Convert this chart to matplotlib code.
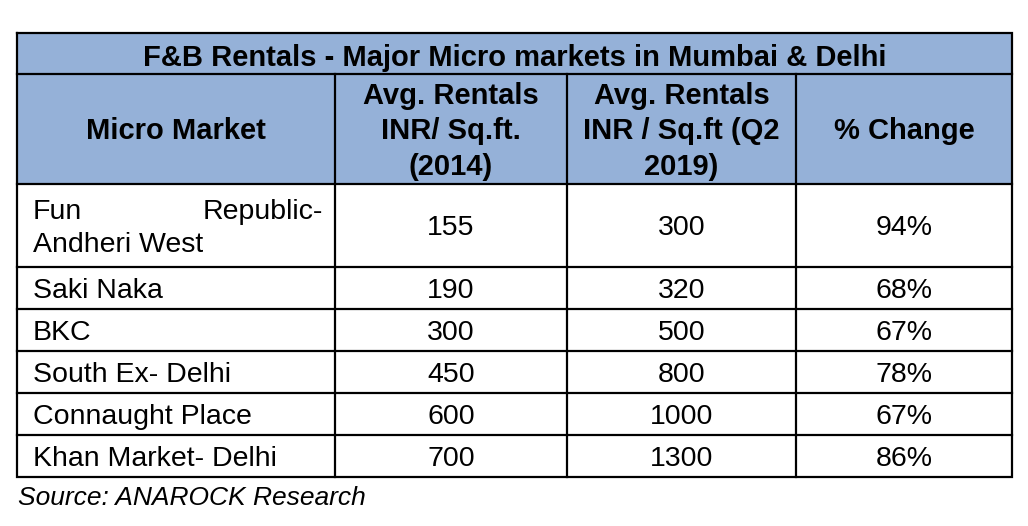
import matplotlib
matplotlib.use("Agg")
import matplotlib.pyplot as plt
from matplotlib.patches import Rectangle

title = "F&B Rentals - Major Micro markets in Mumbai & Delhi"
headers = ["Micro Market", "Avg. Rentals\nINR/ Sq.ft.\n(2014)", "Avg. Rentals\nINR / Sq.ft (Q2\n2019)", "% Change"]
markets = ["Fun Republic- Andheri West", "Saki Naka", "BKC", "South Ex- Delhi", "Connaught Place", "Khan Market- Delhi"]
rent_2014 = [155, 190, 300, 450, 600, 700]
rent_q2_2019 = [300, 320, 500, 800, 1000, 1300]
pct_change = ["94%", "68%", "67%", "78%", "67%", "86%"]
source = "Source: ANAROCK Research"

plt.rcParams['font.family'] = ['Liberation Sans', 'DejaVu Sans']

W, H = 1028, 526
fig = plt.figure(figsize=(W / 100, H / 100), dpi=100)
ax = fig.add_axes([0, 0, 1, 1])
ax.set_xlim(0, W)
ax.set_ylim(H, 0)
ax.axis('off')

col_x = [17, 335, 567, 796, 1012]
top, title_bot, head_bot = 33, 74, 184
row_bounds = [184, 267, 309, 351, 393, 435, 477]
header_color = "#95B1D8"
lw = 1.6
body_fs = 20.5
head_fs = 21
title_fs = 21
src_fs = 19


def cap(fs):
    return fs * 100 / 72 * 0.716


def text_c(x, ycap, s, fs, **kw):
    # place text so its cap-height centre sits at ycap
    ax.text(x, ycap + cap(fs) / 2, s, va='baseline', fontsize=fs, **kw)


# header background
ax.add_patch(Rectangle((col_x[0], top), col_x[-1] - col_x[0], head_bot - top,
                       facecolor=header_color, edgecolor='none', zorder=0))

# title
text_c((col_x[0] + col_x[-1]) / 2, 55.5, title, title_fs, ha='center', fontweight='bold')

# headers
line_gap = 35.5
for i, h in enumerate(headers):
    cx = (col_x[i] + col_x[i + 1]) / 2
    lines = h.split("\n")
    n = len(lines)
    for k, ln in enumerate(lines):
        yc = 129 + (k - (n - 1) / 2) * line_gap
        text_c(cx, yc, ln, head_fs, ha='center', fontweight='bold')

# body rows
for r in range(len(markets)):
    y0, y1 = row_bounds[r], row_bounds[r + 1]
    cy = (y0 + y1) / 2 - 0.5
    if r == 0:
        text_c(col_x[0] + 16, 209, "Fun", body_fs, ha='left')
        text_c(col_x[1] - 12, 209, "Republic-", body_fs, ha='right')
        text_c(col_x[0] + 16, 242, "Andheri West", body_fs, ha='left')
    else:
        text_c(col_x[0] + 16, cy, markets[r], body_fs, ha='left')
    vals = [str(rent_2014[r]), str(rent_q2_2019[r]), pct_change[r]]
    for j, v in enumerate(vals):
        cx = (col_x[j + 1] + col_x[j + 2]) / 2
        text_c(cx, cy, v, body_fs, ha='center')

# borders
bottom = row_bounds[-1]
ax.plot([col_x[0], col_x[-1], col_x[-1], col_x[0], col_x[0]], [top, top, bottom, bottom, top],
        color='black', lw=lw, solid_joinstyle='miter')
ax.plot([col_x[0], col_x[-1]], [title_bot, title_bot], color='black', lw=lw)
for y in row_bounds[:-1]:
    ax.plot([col_x[0], col_x[-1]], [y, y], color='black', lw=lw)
for x in col_x[1:-1]:
    ax.plot([x, x], [title_bot, bottom], color='black', lw=lw)

text_c(18, 495.5, source, src_fs, ha='left', style='italic')

fig.savefig("out.png", dpi=100)
